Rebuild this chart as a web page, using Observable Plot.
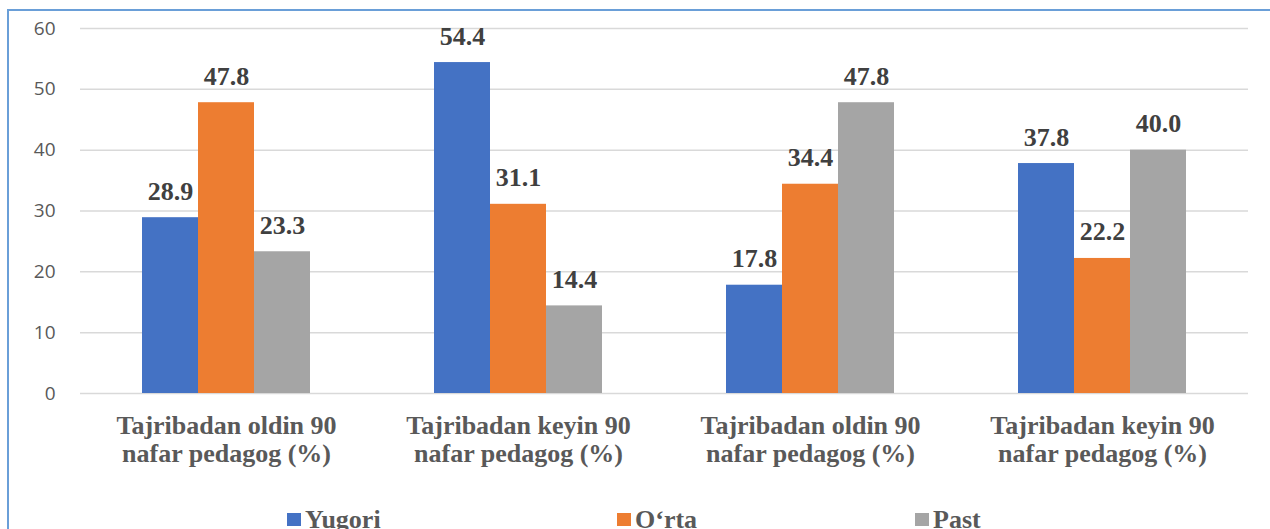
<!DOCTYPE html>
<html>
<head>
<meta charset="utf-8">
<script src="https://cdn.jsdelivr.net/npm/d3@7"></script>
<script src="https://cdn.jsdelivr.net/npm/@observablehq/plot@0.6"></script>
<style>
  html, body { margin: 0; padding: 0; background: #fff; overflow: hidden; width: 1270px; height: 529px; }
  #frame { position: absolute; left: 7px; top: 9px; width: 1300px; height: 600px; border: 2px solid #6A9FD8; box-sizing: border-box; }
  #chart { position: absolute; left: 0; top: 0; }
  #legend { position: absolute; left: 0; top: 0; width: 1270px; height: 529px; pointer-events: none; overflow: hidden; }
  .item { position: absolute; top: 505px; font-family: "Liberation Serif", "Times New Roman", serif; font-weight: bold; font-size: 26px; color: #595959; white-space: nowrap; line-height: 30px; }
  .sw { display: inline-block; width: 14px; height: 13px; margin-right: 4px; vertical-align: 2px; }
</style>
</head>
<body>
<div id="frame"></div>
<div id="chart"></div>
<div id="legend"></div>
<script>
const groups = ["g1", "g2", "g3", "g4"];
const groupLabels = [
  "Tajribadan oldin 90\nnafar pedagog (%)",
  "Tajribadan keyin 90\nnafar pedagog (%)",
  "Tajribadan oldin 90\nnafar pedagog (%)",
  "Tajribadan keyin 90\nnafar pedagog (%)"
];
const series = ["Yugori", "O‘rta", "Past"];
const colors = ["#4472C4", "#ED7D31", "#A5A5A5"];
const yugori = [28.9, 54.4, 17.8, 37.8];
const orta = [47.8, 31.1, 34.4, 22.2];
const past = [23.3, 14.4, 47.8, 40.0];
const yTicks = [0, 10, 20, 30, 40, 50, 60];

const valuesBySeries = [yugori, orta, past];
const data = [];
groups.forEach((g, i) => {
  series.forEach((s, j) => {
    data.push({group: g, series: s, value: valuesBySeries[j][i]});
  });
});
const labelOf = new Map(groups.map((g, i) => [g, groupLabels[i]]));

const serif = "'Liberation Serif', 'Times New Roman', serif";
const sans = "'Open Sans', 'Liberation Sans', Arial, sans-serif";
const chart = Plot.plot({
  width: 1270,
  height: 500,
  marginLeft: 79,
  marginRight: 21,
  marginTop: 28,
  marginBottom: 107,
  style: {background: "transparent", fontSize: "19px", fontFamily: sans},
  fx: {domain: groups, padding: 0},
  x: {domain: series, paddingInner: 0, paddingOuter: 1.09, axis: null},
  y: {domain: [0, 60]},
  color: {domain: series, range: colors},
  marks: [
    Plot.gridY(yTicks, {stroke: "#d9d9d9", strokeOpacity: 1, strokeWidth: 1.5}),
    Plot.axisY({ticks: yTicks, tickSize: 0, tickPadding: 25, label: null, fontSize: 19, fill: "#595959", fontFamily: sans}),
    Plot.axisFx({anchor: "bottom", tickSize: 0, tickPadding: 21.5, label: null, tickFormat: d => labelOf.get(d), fontSize: 26, fontWeight: "bold", fontFamily: serif, fill: "#595959", lineHeight: 1.05}),
    Plot.barY(data, {fx: "group", x: "series", y: "value", fill: "series"}),
    Plot.text(data, {fx: "group", x: "series", y: "value", text: d => d.value.toFixed(1), lineAnchor: "bottom", dy: -18, fontSize: 26, fontWeight: "bold", fontFamily: serif, fill: "#404040"})
  ]
});
document.getElementById("chart").appendChild(chart);

const legendLeft = [287, 617, 915];
const legend = d3.select("#legend");
series.forEach((s, i) => {
  const item = legend.append("div").attr("class", "item").style("left", legendLeft[i] + "px");
  item.append("span").attr("class", "sw").style("background", colors[i]);
  item.append("span").text(s);
});
</script>
</body>
</html>
